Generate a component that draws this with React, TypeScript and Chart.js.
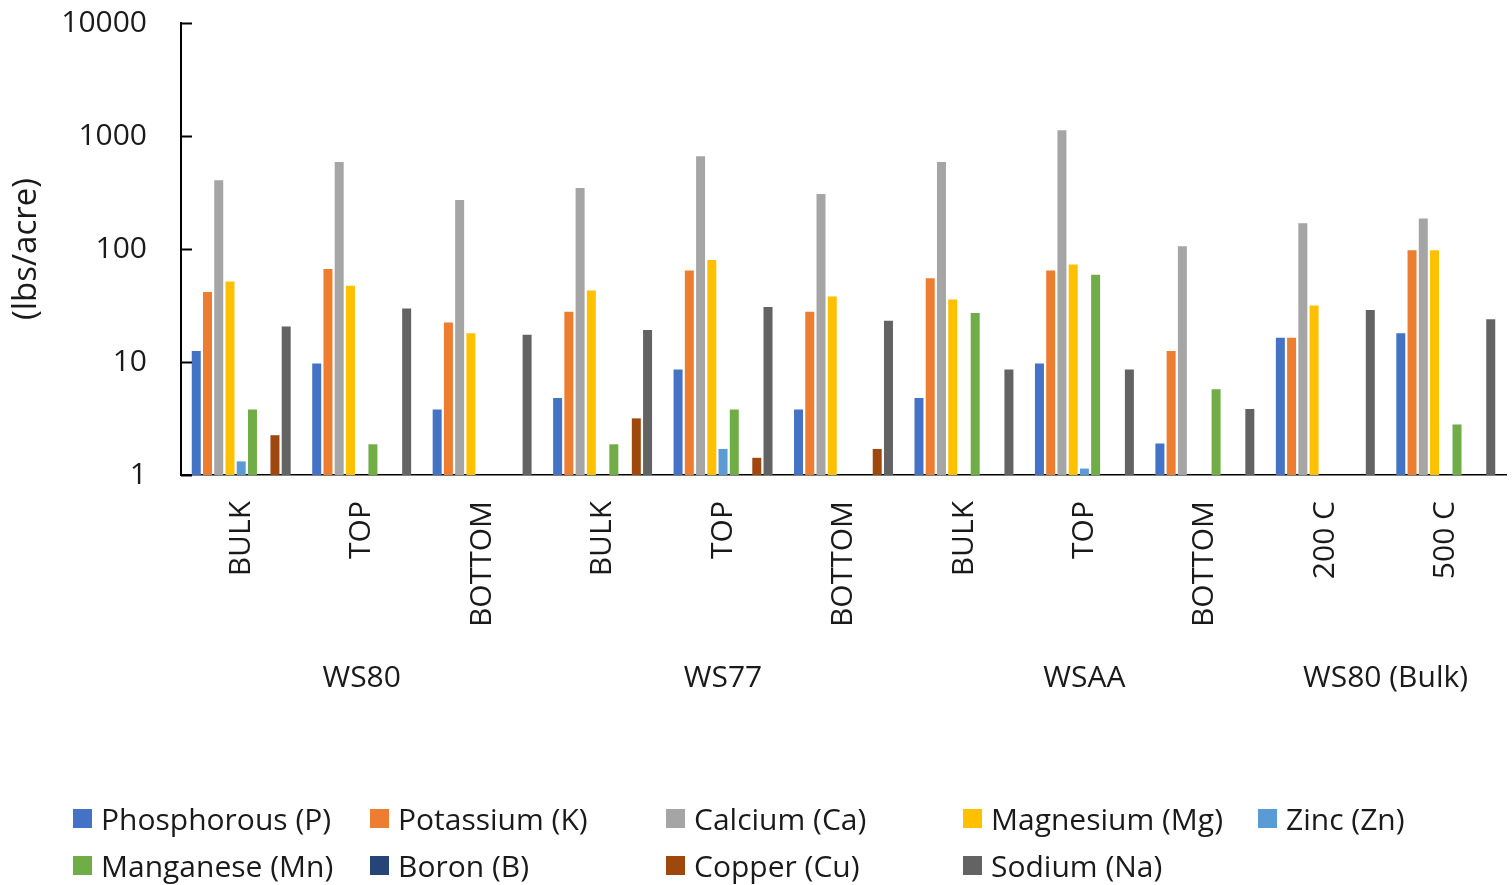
import React, { useEffect, useRef } from "react";
import { Chart, registerables } from "chart.js";

Chart.register(...registerables);

// Sample labels (lower level) and site groups (upper level)
const categories = ["BULK", "TOP", "BOTTOM", "BULK", "TOP", "BOTTOM", "BULK", "TOP", "BOTTOM", "200 C", "500 C"];
const groupLabels = ["WS80", "WS77", "WSAA", "WS80 (Bulk)"];
const groupCenters = [1, 4, 7, 9.5];
const yTicks = [1, 10, 100, 1000, 10000];

// Nutrient amounts, lbs/acre (null = not detected)
const phosphorous = [12.5, 9.7, 3.8, 4.8, 8.6, 3.8, 4.8, 9.7, 1.9, 16.4, 18.0];
const potassium = [41.7, 66.4, 22.4, 27.9, 64.6, 27.9, 55.2, 64.6, 12.5, 16.4, 97.3];
const calcium = [405, 589, 271, 346, 662, 306, 589, 1127, 106, 169, 186];
const magnesium = [51.6, 47.2, 18.0, 42.9, 79.8, 37.9, 35.7, 73.1, null, 31.6, 97.3];
const zinc = [1.32, null, null, null, 1.7, null, null, 1.14, null, null, null];
const manganese = [3.8, 1.87, null, 1.87, 3.8, null, 27.2, 59.1, 5.73, null, 2.8];
const boron = [null, null, null, null, null, null, null, null, null, null, null];
const copper = [2.25, null, null, 3.17, 1.42, 1.7, null, null, null, null, null];
const sodium = [20.6, 29.7, 17.4, 19.2, 30.7, 23.2, 8.6, 8.6, 3.84, 28.9, 23.9];

const seriesNames = [
  "Phosphorous (P)",
  "Potassium (K)",
  "Calcium (Ca)",
  "Magnesium (Mg)",
  "Zinc (Zn)",
  "Manganese (Mn)",
  "Boron (B)",
  "Copper (Cu)",
  "Sodium (Na)",
];
const seriesColors = ["#4472C4", "#ED7D31", "#A5A5A5", "#FFC000", "#5B9BD5", "#70AD47", "#264478", "#9E480E", "#636363"];
const seriesValues = [phosphorous, potassium, calcium, magnesium, zinc, manganese, boron, copper, sodium];

const FONT_FAMILY = '"Open Sans", Lato, sans-serif';
const TEXT_COLOR = "#1a1a1a";
const FONT_SIZE = 30;
const TITLE_SIZE = 33;

// Short tick marks pointing into the plot from the value axis
const innerTicks = {
  id: "innerTicks",
  afterDraw(chart: any) {
    const y = chart.scales.y;
    const ctx = chart.ctx;
    const x0 = chart.chartArea.left;
    ctx.save();
    ctx.strokeStyle = "#000";
    ctx.lineWidth = 2;
    for (const v of yTicks) {
      const py = Math.round(y.getPixelForValue(v)) + 0.5;
      ctx.beginPath();
      ctx.moveTo(x0, py);
      ctx.lineTo(x0 + 11, py);
      ctx.stroke();
    }
    ctx.restore();
  },
};

const legendCols = [73, 370, 666, 963, 1258];
const legendRows = [818, 865];

export default function App() {
  const canvasRef = useRef<HTMLCanvasElement | null>(null);

  useEffect(() => {
    if (!canvasRef.current) return;
    const font = { family: FONT_FAMILY, size: FONT_SIZE };
    const noPad = (s: any) => {
      s.paddingTop = 0;
      s.paddingBottom = 0;
      s.paddingLeft = 0;
      s.paddingRight = 0;
    };
    const chart = new Chart(canvasRef.current, {
      type: "bar",
      data: {
        labels: categories,
        datasets: seriesNames.map((name, i) => ({
          label: name,
          data: seriesValues[i] as any,
          backgroundColor: seriesColors[i],
          borderWidth: 0,
          categoryPercentage: 0.84,
          barPercentage: 0.8,
        })),
      },
      options: {
        responsive: false,
        animation: false,
        layout: { padding: { top: 23, right: 6, bottom: 175, left: 0 } },
        plugins: { legend: { display: false }, tooltip: { enabled: false } },
        scales: {
          x: {
            type: "category",
            position: "bottom",
            weight: 0,
            grid: { display: false, drawTicks: false },
            border: { display: true, color: "#000", width: 1.5 },
            ticks: {
              autoSkip: false,
              minRotation: 90,
              maxRotation: 90,
              padding: 26,
              color: TEXT_COLOR,
              font,
            },
            afterFit(s: any) {
              s.height = 175;
              noPad(s);
            },
          },
          x2: {
            type: "linear",
            position: "bottom",
            weight: 1,
            offset: false,
            min: -0.5,
            max: 10.5,
            grid: { display: false, drawTicks: false, offset: false },
            border: { display: false },
            afterBuildTicks(s: any) {
              s.ticks = groupCenters.map((v) => ({ value: v }));
            },
            ticks: {
              autoSkip: false,
              maxRotation: 0,
              minRotation: 0,
              padding: 10,
              color: TEXT_COLOR,
              font,
              callback: (_v: any, idx: number) => groupLabels[idx],
            },
            afterFit(s: any) {
              s.height = 60;
              noPad(s);
            },
          },
          y: {
            type: "logarithmic",
            min: 1,
            max: 10000,
            grid: { display: false, drawTicks: false },
            border: { display: true, color: "#000", width: 2 },
            afterBuildTicks(s: any) {
              s.ticks = yTicks.map((v) => ({ value: v }));
            },
            ticks: {
              padding: 34,
              color: TEXT_COLOR,
              font,
              callback: (v: any) => String(v),
            },
            title: {
              display: true,
              text: "(lbs/acre)",
              color: TEXT_COLOR,
              font: { family: FONT_FAMILY, size: TITLE_SIZE },
              padding: { top: 7, bottom: 0 },
            },
            afterFit(s: any) {
              s.width = 181;
              noPad(s);
            },
          },
        },
      },
      plugins: [innerTicks],
    } as any);
    return () => chart.destroy();
  }, []);

  return (
    <div style={{ position: "absolute", left: 0, top: 0, width: 1512, height: 885, background: "#fff" }}>
      <canvas ref={canvasRef} width={1512} height={885} style={{ display: "block", width: 1512, height: 885 }} />
      {seriesNames.map((name, i) => {
        const col = i < 5 ? i : i - 5;
        const row = i < 5 ? 0 : 1;
        return (
          <div
            key={name}
            style={{
              position: "absolute",
              left: legendCols[col],
              top: legendRows[row] - 20,
              height: 40,
              display: "flex",
              alignItems: "center",
              fontFamily: FONT_FAMILY,
              fontSize: FONT_SIZE,
              color: TEXT_COLOR,
              whiteSpace: "nowrap",
            }}
          >
            <span style={{ display: "inline-block", width: 19, height: 19, background: seriesColors[i], marginRight: 9 }} />
            <span>{name}</span>
          </div>
        );
      })}
    </div>
  );
}
